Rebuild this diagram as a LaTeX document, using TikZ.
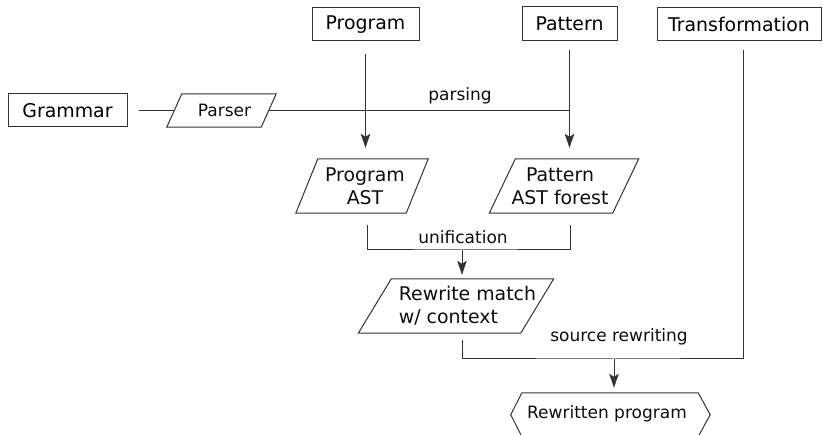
\documentclass[tikz,border=0pt]{standalone}
\usepackage{fontspec}
\setmainfont{DejaVu Sans}
\usetikzlibrary{arrows.meta,calc}
\newcommand\paradraw[2]{%
  \draw[line] ($(#1.north west)+(#2,0)$) -- ($(#1.north east)+(#2,0)$) --
    ($(#1.south east)+(-#2,0)$) -- ($(#1.south west)+(-#2,0)$) -- cycle;}
\begin{document}
\begin{tikzpicture}[x=1pt,y=-1pt,
  line/.style={draw=black!80,line width=1pt},
  arr/.style={-{Stealth[length=14pt,width=9.5pt,inset=3pt]}},
  box/.style={line,rectangle,inner sep=0pt,font=\fontsize{18.9}{23}\selectfont},
  shapebox/.style={rectangle,draw=none,inner sep=0pt},
  big/.style={font=\fontsize{18.9}{23}\selectfont,align=center,inner sep=0pt,text=black!95},
  small/.style={font=\fontsize{17}{20}\selectfont,inner sep=0pt,text=black!95}]
\useasboundingbox (0,0) rectangle (823,435);

% rectangular boxes
\node[box,minimum width=119pt,minimum height=33pt] (grammar) at (67.5,110.5) {Grammar};
\node[box,minimum width=107pt,minimum height=33pt] (prog) at (365.5,24.5) {Program};
\node[box,minimum width=95pt,minimum height=34pt] (patt) at (569.5,24) {Pattern};
\node[box,minimum width=164pt,minimum height=33pt] (trans) at (739,24) {Transformation};

% parallelograms
\node[shapebox,minimum width=94pt,minimum height=33pt] (parser) at (221.5,110.5) {};
\paradraw{parser}{7.5}
\node[small] (parsert) at (224.5,110.5) {Parser};

\node[shapebox,minimum width=110pt,minimum height=54pt] (pa) at (362,186) {};
\paradraw{pa}{11}
\node[big] (pat) at (365,186) {Program\\AST};

\node[shapebox,minimum width=123pt,minimum height=54pt] (ppa) at (564,186) {};
\paradraw{ppa}{13}
\node[big] (ppat) at (560,186) {Pattern\\AST forest};

\node[shapebox,minimum width=162pt,minimum height=54pt] (rw) at (456,306) {};
\paradraw{rw}{16.5}
\node[big,align=left] (rwt) at (467.5,306) {Rewrite match\\w/ context};

% hexagon
\node[shapebox,minimum width=199pt,minimum height=43.5pt] (rp) at (610.5,414.75) {};
\draw[line] ($(rp.north west)+(11,0)$) -- ($(rp.north east)+(-12,0)$) -- (rp.east) --
  ($(rp.south east)+(-12,0)$) -- ($(rp.south west)+(11,0)$) -- (rp.west) -- cycle;
\node[small] (rpt) at (607,414) {Rewritten program};

% connectors
\draw[line] ([xshift=11pt]grammar.east) -- (parser.west);
\draw[line] (parser.east) -- (parser.east -| patt.south);
\draw[line,arr,shorten <=13pt,shorten >=11pt] (prog.south) -- (prog.south |- pa.north);
\draw[line,arr,shorten <=9pt,shorten >=11pt] (patt.south) -- (patt.south |- ppa.north);
\node[small] (pars) at (460,96) {parsing};

\coordinate (u1) at (367,225);
\coordinate (u2) at (570,225);
\coordinate (uj) at (462,250);
\draw[line] (u1) |- (uj) -| (u2);
\draw[line,arr,shorten >=4pt] (uj) -- (uj |- rw.north);
\node[small] (unif) at (463,237) {unification};

\coordinate (s1) at (462,340);
\coordinate (sj) at (614,359);
\coordinate (t1) at (743,50);
\draw[line] (s1) |- (sj) -| (t1);
\draw[line,arr,shorten >=5pt] (sj) -- (sj |- rp.north);
\node[small] (srw) at (619,337) {source rewriting};
\end{tikzpicture}
\end{document}
